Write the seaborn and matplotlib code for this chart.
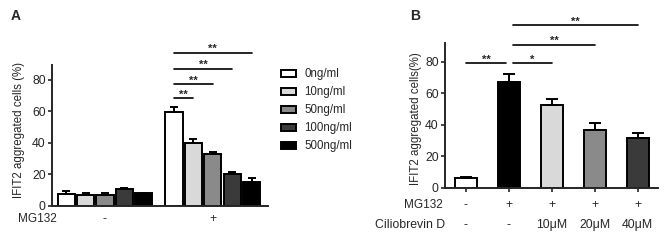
import matplotlib
matplotlib.use('Agg')
import seaborn as sns
import pandas as pd
import numpy as np
import matplotlib.pyplot as plt
import matplotlib.transforms as mtrans

# panel A data
mg132_a = ["-", "+"]
doses_a = ["0ng/ml", "10ng/ml", "50ng/ml", "100ng/ml", "500ng/ml"]
vals_minus = [7.4, 6.8, 7.2, 10.6, 7.9]
err_minus = [2.0, 1.5, 1.1, 0.9, 0.4]
vals_plus = [59.6, 39.8, 32.8, 20.0, 15.3]
err_plus = [3.4, 2.5, 1.7, 1.7, 2.1]
colors_a = ["#ffffff", "#d9d9d9", "#8a8a8a", "#3a3a3a", "#000000"]

# panel B data
groups_b = ["ctrl", "MG132", "10", "20", "40"]
mg132_b = ["-", "+", "+", "+", "+"]
cilio_b = ["-", "-", "10\u03bcM", "20\u03bcM", "40\u03bcM"]
vals_b = [6.3, 67.3, 52.5, 36.8, 31.5]
err_b = [0.9, 4.7, 4.0, 4.5, 3.5]
colors_b = ["#ffffff", "#000000", "#d9d9d9", "#8a8a8a", "#3a3a3a"]

sns.set_style("ticks")
plt.rcParams['font.family'] = ['Liberation Sans', 'DejaVu Sans']
plt.rcParams['axes.linewidth'] = 1.4

fig = plt.figure(figsize=(6.68, 2.4), dpi=100)
axA = fig.add_axes([0.078, 0.142, 0.323, 0.588])
axB = fig.add_axes([0.666, 0.217, 0.319, 0.604])

# ---------- panel A
dfA = pd.DataFrame({
    "mg": [mg132_a[0]] * 5 + [mg132_a[1]] * 5,
    "dose": doses_a * 2,
    "val": vals_minus + vals_plus,
})
sns.barplot(data=dfA, x="mg", y="val", hue="dose", hue_order=doses_a,
            palette=colors_a, edgecolor="black", linewidth=1.4, width=0.9,
            gap=0.12, errorbar=None, ax=axA, legend=True)
# errorbars placed on the bars seaborn drew
bars = sorted([p for p in axA.patches if p.get_height() > 0][:10], key=lambda p: p.get_x())
xc_a = [p.get_x() + p.get_width() / 2 for p in bars]
axA.errorbar(xc_a, [p.get_height() for p in bars],
             yerr=[np.zeros(10), err_minus + err_plus], fmt="none",
             ecolor="black", elinewidth=1.4, capsize=3.2, capthick=1.4, zorder=1)
axA.set_xlim(-0.49, 1.51)
axA.set_ylim(0, 89.5)
axA.set_yticks([0, 20, 40, 60, 80])
axA.tick_params(axis="y", labelsize=8.8, length=3, width=1.2, pad=1.5)
axA.tick_params(axis="x", length=0, labelsize=8.8, pad=5)
axA.set_xlabel("")
axA.set_ylabel("IFIT2 aggregated cells (%)", fontsize=8.3)
axA.yaxis.set_label_coords(-0.125, 0.54)
sns.despine(ax=axA)
axA.text(-0.157, -0.09, "MG132", transform=axA.transAxes, fontsize=8.5,
         ha="left", va="center")
# significance bars
base = xc_a[5]
for i, lev in zip([6, 7, 8, 9], [68.3, 77.2, 87, 97.2]):
    axA.plot([base, xc_a[i]], [lev, lev], color="black", lw=1.2, clip_on=False)
    axA.text((base + xc_a[i]) / 2, lev - 1, "**", ha="center", va="bottom",
             fontsize=8, fontweight="bold")
handles, labels = axA.get_legend_handles_labels()
axA.get_legend().remove()
fig.legend(handles, labels, loc="upper left", bbox_to_anchor=(0.421, 0.715),
           frameon=False, fontsize=8.3, handlelength=1.3, handleheight=0.6,
           labelspacing=0.52, handletextpad=0.7, borderpad=0, borderaxespad=0)
fig.text(0.016, 0.935, "A", fontsize=10, fontweight="bold", ha="left", va="center")

# ---------- panel B
dfB = pd.DataFrame({"grp": groups_b, "val": vals_b})
sns.barplot(data=dfB, x="grp", y="val", hue="grp", palette=colors_b,
            edgecolor="black", linewidth=1.4, width=0.51, errorbar=None,
            ax=axB, legend=False)
barsB = sorted([p for p in axB.patches if p.get_height() > 0], key=lambda p: p.get_x())
xc_b = [p.get_x() + p.get_width() / 2 for p in barsB]
axB.errorbar(xc_b, [p.get_height() for p in barsB], yerr=[np.zeros(5), err_b],
             fmt="none", ecolor="black", elinewidth=1.4, capsize=4.3,
             capthick=1.4, zorder=1)
axB.set_xlim(-0.49, 4.47)
axB.set_ylim(0, 92)
axB.set_yticks([0, 20, 40, 60, 80])
axB.set_xticks(range(5))
axB.set_xticklabels(mg132_b, fontsize=8.8)
axB.tick_params(axis="y", labelsize=8.8, length=3, width=1.2, pad=1.5)
axB.tick_params(axis="x", length=3, width=1.2, pad=5)
axB.set_xlabel("")
axB.set_ylabel("IFIT2 aggregated cells(%)", fontsize=8.3)
axB.yaxis.set_label_coords(-0.108, 0.48)
sns.despine(ax=axB)
tr = mtrans.blended_transform_factory(axB.transData, axB.transAxes)
for i, lab in enumerate(cilio_b):
    axB.text(i, -0.255, lab, transform=tr, ha="center", va="center", fontsize=8.8)
axB.text(-0.01, -0.117, "MG132", transform=axB.transAxes, ha="right",
         va="center", fontsize=8.5)
axB.text(0.0, -0.255, "Ciliobrevin D", transform=axB.transAxes, ha="right",
         va="center", fontsize=8.8)
sig_b = [(0, 0.93, 79.4, "**"), (1.1, 2, 79.4, "*"), (1.1, 3, 91, "**"), (1.1, 4, 103.5, "**")]
for a, b, lev, s in sig_b:
    axB.plot([a, b], [lev, lev], color="black", lw=1.2, clip_on=False)
    axB.text((a + b) / 2, lev - 1, s, ha="center", va="bottom", fontsize=8,
             fontweight="bold")
fig.text(0.614, 0.935, "B", fontsize=10, fontweight="bold", ha="left", va="center")

fig.savefig("out.png", dpi=100)
